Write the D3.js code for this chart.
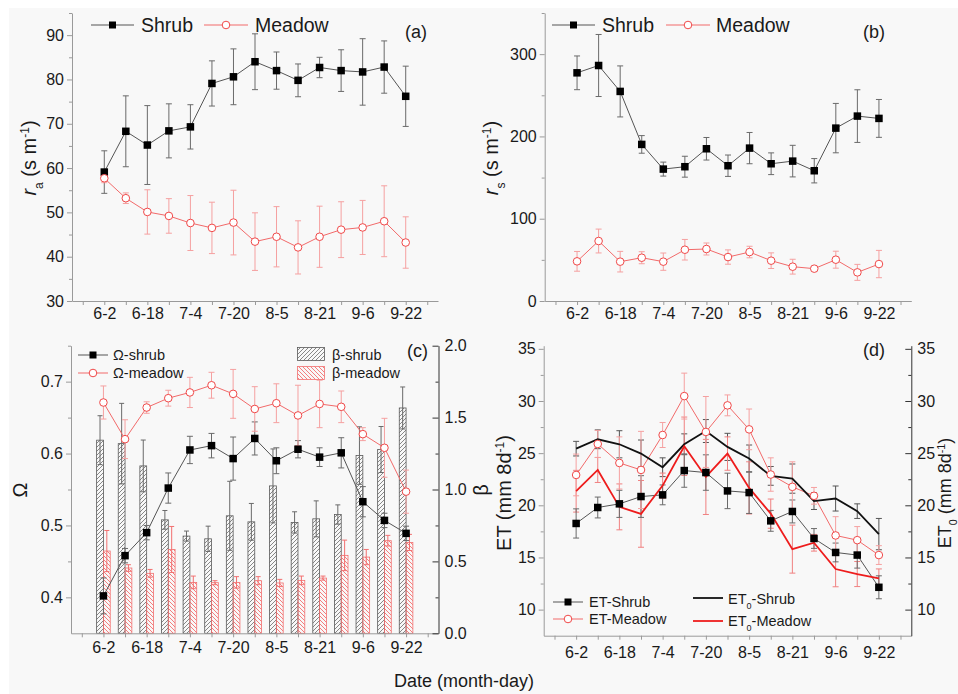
<!DOCTYPE html>
<html><head><meta charset="utf-8">
<script src="https://cdn.jsdelivr.net/npm/d3@7"></script>
<style>
body{margin:0;background:#fff;}
svg{display:block;font-family:"Liberation Sans",Arial,sans-serif;}
</style></head>
<body><svg id="chart" width="958" height="694"></svg>
<script>
// ---------- DATA ----------
const dates = ["6-2","6-10","6-18","6-26","7-4","7-12","7-20","7-28","8-5","8-13","8-21","8-29","9-6","9-14","9-22"];
const dateLabels = ["6-2","6-18","7-4","7-20","8-5","8-21","9-6","9-22"];

const raShrub = [59.1,68.3,65.2,68.4,69.3,79.1,80.6,84.0,82.0,79.8,82.7,82.0,81.7,82.8,76.2];
const raShrubErr = [4.8,8.0,8.9,6.1,5.0,5.1,6.3,6.3,4.2,3.7,2.3,4.7,7.5,5.9,6.8];
const raMeadow = [57.7,53.2,50.1,49.2,47.6,46.5,47.7,43.4,44.5,42.1,44.5,46.1,46.6,48.0,43.2];
const raMeadowErr = [1.0,1.2,5.0,3.9,6.2,5.8,7.3,6.5,6.8,6.0,6.9,6.3,6.1,8.0,5.8];

const rsShrub = [277.3,286.2,254.7,190.3,160.3,163.2,185.0,164.4,185.8,166.8,170.0,158.3,210.1,224.7,221.9];
const rsShrubErr = [20.5,37.7,31,10.7,8.5,12.7,13.7,13,19,13.2,19.2,14.8,30,32,23];
const rsMeadow = [48.2,72.9,47.8,52.6,47.8,62.3,63.2,53.4,59.5,49.0,41.7,39.3,50.2,34.8,44.9];
const rsMeadowErr = [12,14.5,12.5,7.3,10.5,12.5,7.3,8.7,7,9.5,9,3,10.3,9.7,16.6];

const omegaShrub = [0.402,0.458,0.490,0.552,0.605,0.611,0.593,0.621,0.590,0.606,0.595,0.601,0.533,0.507,0.489];
const omegaShrubErr = [0.025,0.01,0.01,0.021,0.019,0.017,0.03,0.023,0.018,0.012,0.013,0.021,0.021,0.01,0.01];
const omegaMeadow = [0.671,0.620,0.664,0.677,0.685,0.695,0.683,0.662,0.670,0.653,0.669,0.665,0.627,0.608,0.547];
const omegaMeadowErr = [0.023,0.027,0.008,0.011,0.021,0.018,0.034,0.031,0.027,0.042,0.033,0.022,0.009,0.041,0.03];
const betaShrub = [1.343,1.319,1.164,0.789,0.676,0.657,0.817,0.775,1.025,0.771,0.796,0.826,1.236,1.278,1.567];
const betaShrubErr = [0.17,0.28,0.18,0.065,0.035,0.088,0.24,0.128,0.257,0.074,0.125,0.067,0.2,0.16,0.146];
const betaMeadow = [0.572,0.454,0.417,0.583,0.354,0.352,0.354,0.366,0.35,0.368,0.384,0.542,0.53,0.644,0.632];
const betaMeadowErr = [0.143,0.023,0.027,0.16,0.044,0.014,0.04,0.028,0.025,0.03,0.014,0.106,0.053,0.037,0.056];

const etShrub = [18.26,19.79,20.14,20.84,21.0,23.33,23.14,21.38,21.22,18.51,19.41,16.82,15.48,15.23,12.14];
const etShrubErr = [1.4,1.0,1.3,2.0,0.95,1.6,1.7,1.7,2.0,1.0,1.1,0.95,0.9,1.25,1.1];
const etMeadow = [22.91,25.88,24.06,23.39,26.74,30.47,27.03,29.58,27.28,22.95,21.77,20.91,17.11,16.66,15.23];
const etMeadowErr = [2.0,1.3,2.5,3.7,1.2,2.2,3.4,1.0,1.95,1.6,2.4,0.8,1.8,1.3,0.9];
const et0Shrub = [25.43,26.33,25.85,24.96,23.65,25.85,27.12,25.6,24.48,22.82,22.56,20.4,20.65,19.44,17.24];
const et0ShrubErr = [0.7,0.9,1.3,1.3,0.9,1.0,1.1,1.3,1.3,0.9,1.4,0.8,1.2,0.7,1.5];
const et0Meadow = [21.35,23.39,19.85,19.18,21.89,25.66,22.72,24.96,21.67,19.2,15.8,16.41,13.89,13.41,13.0];
const et0MeadowErr = [2.0,1.2,2.2,3.2,1.2,2.8,3.6,1.6,2.5,1.4,2.3,0.8,1.7,1.2,0.9];

// ---------- STYLE ----------
const C = {
  axis:"#9a9a9a", axisDark:"#333", text:"#1a1a1a",
  shrubLine:"#555", shrubErr:"#6a6a6a", shrubMark:"#000",
  meadowLine:"#f26a6a", meadowErr:"#f5a0a0", meadowMark:"#f04848",
  et0Shrub:"#111", et0Meadow:"#ee1c1c"
};
const svg = d3.select("#chart");
svg.append("rect").attr("x",9).attr("y",8).attr("width",949).attr("height",686).attr("fill","#f8f8f8");

const defs = svg.append("defs");
function hatch(id, color, dir){
  const p = defs.append("pattern").attr("id",id).attr("patternUnits","userSpaceOnUse")
    .attr("width",4).attr("height",4);
  const d = dir>0 ? "M-1,1 L1,-1 M0,4 L4,0 M3,5 L5,3" : "M-1,3 L1,5 M0,0 L4,4 M3,-1 L5,1";
  p.append("path").attr("d",d).attr("stroke",color).attr("stroke-width",0.8).attr("fill","none");
}
hatch("hShrub","#6a6a6a",1);
hatch("hMeadow","#f26060",-1);

const tickIdx = d3.range(-1,16);

function makeX(x0,x1){ return d3.scaleLinear().domain([-1.5,15.5]).range([x0,x1]); }

function bottomAxis(g, x, yPos, labelDy){
  const ax = d3.axisBottom(x).tickValues(tickIdx).tickSize(4).tickSizeOuter(0)
    .tickFormat(i => (i>=0 && i%2===0) ? dateLabels[i/2] : "");
  const a = g.append("g").attr("transform",`translate(0,${yPos})`).call(ax);
  a.select(".domain").attr("stroke",C.axis);
  a.selectAll(".tick line").attr("stroke",C.axis);
  a.selectAll(".tick text").attr("fill",C.text).attr("font-size",16).attr("dy",null).attr("y",labelDy);
}
function leftAxis(g, y, xPos, majors, minors, fmt, color){
  const a = g.append("g").attr("transform",`translate(${xPos},0)`)
    .call(d3.axisLeft(y).tickValues(majors).tickSize(5).tickSizeOuter(0).tickFormat(fmt));
  a.select(".domain").attr("stroke",color);
  a.selectAll(".tick line").attr("stroke",color);
  a.selectAll(".tick text").attr("fill",C.text).attr("font-size",16).attr("x",-8);
  const m = g.append("g").attr("transform",`translate(${xPos},0)`)
    .call(d3.axisLeft(y).tickValues(minors).tickSize(3).tickSizeOuter(0).tickFormat(""));
  m.select(".domain").remove();
  m.selectAll(".tick line").attr("stroke",color);
}
function rightAxis(g, y, xPos, majors, minors, fmt){
  const a = g.append("g").attr("transform",`translate(${xPos},0)`)
    .call(d3.axisRight(y).tickValues(majors).tickSize(-6).tickSizeOuter(0).tickFormat(fmt));
  a.select(".domain").attr("stroke",C.axisDark);
  a.selectAll(".tick line").attr("stroke",C.axisDark);
  a.selectAll(".tick text").attr("fill",C.text).attr("font-size",16).attr("x",6);
  const m = g.append("g").attr("transform",`translate(${xPos},0)`)
    .call(d3.axisRight(y).tickValues(minors).tickSize(-3).tickSizeOuter(0).tickFormat(""));
  m.select(".domain").remove();
  m.selectAll(".tick line").attr("stroke",C.axisDark);
}
function errBars(g, xf, y, vals, errs, color, cap){
  const eg = g.append("g").attr("stroke",color).attr("stroke-width",1).attr("fill","none");
  vals.forEach((v,i)=>{
    const cx = xf(i), t = y(v+errs[i]), b = y(v-errs[i]);
    eg.append("line").attr("x1",cx).attr("x2",cx).attr("y1",t).attr("y2",b);
    eg.append("line").attr("x1",cx-cap).attr("x2",cx+cap).attr("y1",t).attr("y2",t);
    eg.append("line").attr("x1",cx-cap).attr("x2",cx+cap).attr("y1",b).attr("y2",b);
  });
}
function lineSeries(g, x, y, vals, color, width){
  g.append("path").datum(vals).attr("fill","none").attr("stroke",color).attr("stroke-width",width)
    .attr("d", d3.line().x((d,i)=>x(i)).y(d=>y(d)));
}
function squares(g, x, y, vals, s){
  g.append("g").selectAll("rect").data(vals).join("rect")
    .attr("x",(d,i)=>x(i)-s/2).attr("y",d=>y(d)-s/2).attr("width",s).attr("height",s).attr("fill",C.shrubMark);
}
function circles(g, x, y, vals, r){
  g.append("g").selectAll("circle").data(vals).join("circle")
    .attr("cx",(d,i)=>x(i)).attr("cy",d=>y(d)).attr("r",r)
    .attr("fill","#fff").attr("stroke",C.meadowMark).attr("stroke-width",1);
}
function legendLine(g, x0, x1, yy, kind, color, label, fs, tx){
  g.append("line").attr("x1",x0).attr("x2",x1).attr("y1",yy).attr("y2",yy).attr("stroke",color).attr("stroke-width",1);
  const cx=(x0+x1)/2;
  if(kind==="sq") g.append("rect").attr("x",cx-3.5).attr("y",yy-3.5).attr("width",7).attr("height",7).attr("fill","#000");
  if(kind==="ci") g.append("circle").attr("cx",cx).attr("cy",yy).attr("r",3.8).attr("fill","#fff").attr("stroke",C.meadowMark);
  g.append("text").attr("x",tx).attr("y",yy+fs*0.36).attr("font-size",fs).attr("fill",C.text).text(label);
}
function rotTitle(g, x, y, parts, fs){
  const t = g.append("text").attr("transform",`translate(${x},${y}) rotate(-90)`)
    .attr("text-anchor","middle").attr("font-size",fs).attr("fill",C.text);
  parts.forEach(p=>{
    const s = t.append("tspan").text(p.t);
    if(p.i) s.attr("font-style","italic");
    if(p.sub) s.attr("font-size",fs*0.6).attr("baseline-shift","sub");
    if(p.sup) s.attr("font-size",fs*0.6).attr("baseline-shift","super");
  });
}

// ---------- PANEL (a) ----------
{
  const g = svg.append("g");
  const x = makeX(72,438), y = d3.scaleLinear().domain([30,95]).range([301,13]);
  bottomAxis(g,x,301,18);
  leftAxis(g,y,72,d3.range(30,91,10),d3.range(35,96,10),d3.format("d"),C.axis);
  errBars(g,x,y,raShrub,raShrubErr,C.shrubErr,3);
  errBars(g,x,y,raMeadow,raMeadowErr,C.meadowErr,3);
  lineSeries(g,x,y,raShrub,C.shrubLine,1);
  lineSeries(g,x,y,raMeadow,C.meadowLine,1);
  squares(g,x,y,raShrub,7.5);
  circles(g,x,y,raMeadow,3.8);
  legendLine(g,91,134,25,"sq",C.shrubLine,"Shrub",19.5,141);
  legendLine(g,204,248,25,"ci",C.meadowLine,"Meadow",19.5,255);
  g.append("text").attr("x",405).attr("y",38).attr("font-size",18).attr("fill",C.text).text("(a)");
  rotTitle(g,36,158,[{t:"r",i:1},{t:"a",sub:1},{t:" (s m"},{t:"-1",sup:1},{t:")"}],20);
}
// ---------- PANEL (b) ----------
{
  const g = svg.append("g");
  const x = makeX(544.7,911.3), y = d3.scaleLinear().domain([0,350]).range([301,13]);
  bottomAxis(g,x,301,18);
  leftAxis(g,y,544.7,[0,100,200,300],[50,150,250,350],d3.format("d"),C.axis);
  errBars(g,x,y,rsShrub,rsShrubErr,C.shrubErr,3);
  errBars(g,x,y,rsMeadow,rsMeadowErr,C.meadowErr,3);
  lineSeries(g,x,y,rsShrub,C.shrubLine,1);
  lineSeries(g,x,y,rsMeadow,C.meadowLine,1);
  squares(g,x,y,rsShrub,7.5);
  circles(g,x,y,rsMeadow,3.8);
  legendLine(g,552,595,25,"sq",C.shrubLine,"Shrub",19.5,602);
  legendLine(g,666,710,25,"ci",C.meadowLine,"Meadow",19.5,716);
  g.append("text").attr("x",863).attr("y",38).attr("font-size",18).attr("fill",C.text).text("(b)");
  rotTitle(g,498,158,[{t:"r",i:1},{t:"s",sub:1},{t:" (s m"},{t:"-1",sup:1},{t:")"}],20);
}
// ---------- PANEL (c) ----------
{
  const g = svg.append("g");
  const x = makeX(71,438.5);
  const yL = d3.scaleLinear().domain([0.35,0.75]).range([633.3,345.7]);
  const yR = d3.scaleLinear().domain([0,2]).range([633.3,345.7]);
  const bw = 6.8;
  g.append("g").selectAll("rect").data(betaShrub).join("rect")
    .attr("x",(d,i)=>x(i)-bw).attr("y",d=>yR(d)).attr("width",bw).attr("height",d=>yR(0)-yR(d))
    .attr("fill","url(#hShrub)").attr("stroke","#5a5a5a").attr("stroke-width",0.8);
  g.append("g").selectAll("rect").data(betaMeadow).join("rect")
    .attr("x",(d,i)=>x(i)).attr("y",d=>yR(d)).attr("width",bw).attr("height",d=>yR(0)-yR(d))
    .attr("fill","url(#hMeadow)").attr("stroke","#f27070").attr("stroke-width",0.8);
  errBars(g,i=>x(i)-bw/2,yR,betaShrub,betaShrubErr,"#6a6a6a",2.5);
  errBars(g,i=>x(i)+bw/2,yR,betaMeadow,betaMeadowErr,"#f27070",2.5);
  bottomAxis(g,x,633.3,20);
  leftAxis(g,yL,71,[0.4,0.5,0.6,0.7],[0.45,0.55,0.65,0.75],d3.format(".1f"),C.axis);
  rightAxis(g,yR,438.5,[0,0.5,1,1.5,2],[0.25,0.75,1.25,1.75],d3.format(".1f"));
  errBars(g,x,yL,omegaShrub,omegaShrubErr,C.shrubErr,3);
  errBars(g,x,yL,omegaMeadow,omegaMeadowErr,C.meadowErr,3);
  lineSeries(g,x,yL,omegaShrub,C.shrubLine,1);
  lineSeries(g,x,yL,omegaMeadow,C.meadowLine,1);
  squares(g,x,yL,omegaShrub,7.5);
  circles(g,x,yL,omegaMeadow,3.8);
  legendLine(g,78,108,355,"sq",C.shrubLine,"\u03A9-shrub",14.5,113);
  legendLine(g,78,108,373,"ci",C.meadowLine,"\u03A9-meadow",14.5,113);
  g.append("rect").attr("x",297.5).attr("y",347.5).attr("width",27).attr("height",13).attr("fill","url(#hShrub)").attr("stroke","#5a5a5a").attr("stroke-width",0.8);
  g.append("rect").attr("x",297.5).attr("y",366.5).attr("width",27).attr("height",13).attr("fill","url(#hMeadow)").attr("stroke","#f27070").attr("stroke-width",0.8);
  g.append("text").attr("x",332).attr("y",359.5).attr("font-size",14.5).attr("fill",C.text).text("\u03B2-shrub");
  g.append("text").attr("x",332).attr("y",377.5).attr("font-size",14.5).attr("fill",C.text).text("\u03B2-meadow");
  g.append("text").attr("x",407).attr("y",357).attr("font-size",18).attr("fill",C.text).text("(c)");
  rotTitle(g,27,490,[{t:"\u03A9"}],20);
  rotTitle(g,488,490,[{t:"\u03B2"}],20);
}
// ---------- PANEL (d) ----------
{
  const g = svg.append("g");
  const x = makeX(543.7,911.3);
  const y = d3.scaleLinear().domain([7.5,35.3]).range([635.7,345.7]);
  bottomAxis(g,x,635.7,22);
  leftAxis(g,y,543.7,d3.range(10,36,5),d3.range(12.5,34,5),d3.format("d"),C.axis);
  rightAxis(g,y,911.3,d3.range(10,36,5),d3.range(12.5,34,5),d3.format("d"));
  errBars(g,x,y,et0Shrub,et0ShrubErr,"#555",3);
  errBars(g,x,y,et0Meadow,et0MeadowErr,"#f08080",3);
  errBars(g,x,y,etShrub,etShrubErr,C.shrubErr,3);
  errBars(g,x,y,etMeadow,etMeadowErr,C.meadowErr,3);
  lineSeries(g,x,y,etShrub,C.shrubLine,1);
  lineSeries(g,x,y,etMeadow,C.meadowLine,1);
  lineSeries(g,x,y,et0Shrub,C.et0Shrub,1.8);
  lineSeries(g,x,y,et0Meadow,C.et0Meadow,1.8);
  squares(g,x,y,etShrub,7.5);
  circles(g,x,y,etMeadow,3.8);
  legendLine(g,553,583,602,"sq",C.shrubLine,"ET-Shrub",14.5,589);
  legendLine(g,553,583,619,"ci",C.meadowLine,"ET-Meadow",14.5,589);
  g.append("line").attr("x1",693).attr("x2",723).attr("y1",598).attr("y2",598).attr("stroke",C.et0Shrub).attr("stroke-width",1.8);
  g.append("line").attr("x1",693).attr("x2",723).attr("y1",621).attr("y2",621).attr("stroke",C.et0Meadow).attr("stroke-width",1.8);
  const t1 = g.append("text").attr("x",728).attr("y",603.5).attr("font-size",14.5).attr("fill",C.text);
  t1.append("tspan").text("ET"); t1.append("tspan").attr("font-size",9).attr("baseline-shift","sub").text("0"); t1.append("tspan").text("-Shrub");
  const t2 = g.append("text").attr("x",728).attr("y",626).attr("font-size",14.5).attr("fill",C.text);
  t2.append("tspan").text("ET"); t2.append("tspan").attr("font-size",9).attr("baseline-shift","sub").text("0"); t2.append("tspan").text("-Meadow");
  g.append("text").attr("x",863).attr("y",356).attr("font-size",18).attr("fill",C.text).text("(d)");
  rotTitle(g,511,493,[{t:"ET (mm 8d"},{t:"-1",sup:1},{t:")"}],20);
  rotTitle(g,951,493,[{t:"ET"},{t:"0",sub:1},{t:" (mm 8d"},{t:"-1",sup:1},{t:")"}],18);
}
svg.append("text").attr("x",464).attr("y",687).attr("text-anchor","middle").attr("font-size",18).attr("fill",C.text).text("Date (month-day)");
</script></body></html>
